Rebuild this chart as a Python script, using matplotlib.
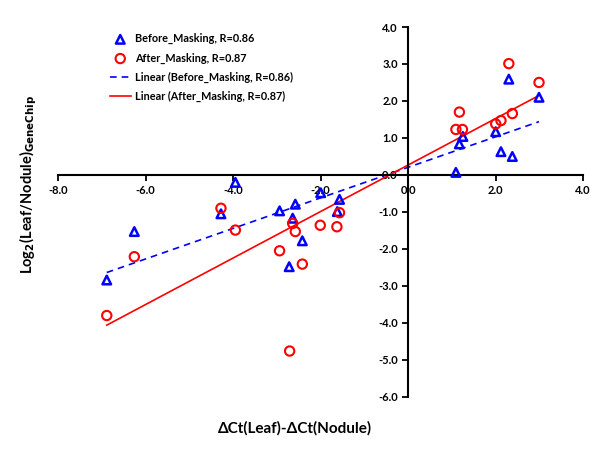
import numpy as np
import matplotlib
matplotlib.use("Agg")
import matplotlib.pyplot as plt

# --- Data ---
before_x = [-6.89, -6.26, -4.28, -3.95, -2.94, -2.58, -2.64, -2.42, -2.72, -2.00,
            -1.57, -1.62, 1.09, 1.17, 1.25, 2.00, 2.12, 2.38, 2.30, 2.99]
before_y = [-2.84, -1.53, -1.05, -0.20, -0.97, -0.79, -1.17, -1.78, -2.48, -0.48,
            -0.66, -0.99, 0.07, 0.84, 1.04, 1.17, 0.63, 0.50, 2.59, 2.10]

after_x = [-6.89, -6.26, -4.28, -3.95, -2.94, -2.64, -2.58, -2.42, -2.01, -1.63,
           -1.57, -2.71, 1.09, 1.17, 1.24, 2.00, 2.12, 2.38, 2.30, 2.99]
after_y = [-3.80, -2.21, -0.90, -1.49, -2.05, -1.31, -1.53, -2.41, -1.36, -1.40,
           -1.02, -4.76, 1.23, 1.70, 1.23, 1.38, 1.47, 1.66, 3.01, 2.50]

x_ticks = [-8.0, -6.0, -4.0, -2.0, 0.0, 2.0, 4.0]
y_ticks = [-6.0, -5.0, -4.0, -3.0, -2.0, -1.0, 0.0, 1.0, 2.0, 3.0, 4.0]

plt.rcParams.update({
    "font.family": ["Lato", "DejaVu Sans"],
    "font.weight": "bold",
    "font.size": 9,
})

fig = plt.figure(figsize=(6, 4.5), dpi=100)
ax = fig.add_axes([0.097, 0.118, 0.875, 0.822])

ax.scatter(before_x, before_y, marker="^", s=38, facecolors="none",
           edgecolors="#0000FF", linewidths=1.8, zorder=3,
           label="Before_Masking, R=0.86")
ax.scatter(after_x, after_y, marker="o", s=45, facecolors="none",
           edgecolors="#FF0000", linewidths=1.5, zorder=3,
           label="After_Masking, R=0.87")

# linear trend lines
for xs, ys, color, ls, lab in [
    (before_x, before_y, "#0000FF", (0, (4, 3)), "Linear (Before_Masking, R=0.86)"),
    (after_x, after_y, "#FF0000", "-", "Linear (After_Masking, R=0.87)"),
]:
    k, b = np.polyfit(xs, ys, 1)
    xx = np.array([min(xs), max(xs)])
    ax.plot(xx, k * xx + b, color=color, linestyle=ls, linewidth=1.2,
            label=lab, zorder=2)

ax.set_xlim(-8, 4)
ax.set_ylim(-6, 4)
ax.set_xticks(x_ticks)
ax.set_yticks(y_ticks)
ax.set_xticklabels([f"{t:.1f}" for t in x_ticks], fontweight="bold")
ax.set_yticklabels([f"{t:.1f}" for t in y_ticks], fontweight="bold")

ax.spines["left"].set_position(("data", 0))
ax.spines["bottom"].set_position(("data", 0))
ax.spines["right"].set_visible(False)
ax.spines["top"].set_visible(False)
for s in ("left", "bottom"):
    ax.spines[s].set_linewidth(1.5)
ax.tick_params(direction="out", length=4, width=1.3, labelsize=8)
ax.patch.set_visible(False)

ax.set_xlabel("ΔCt(Leaf)-ΔCt(Nodule)", fontsize=11, fontweight="bold")
ax.xaxis.set_label_coords(0.45, -0.065)
ax.set_ylabel("Log$_\\mathbf{2}$(Leaf/Nodule)$_\\mathbf{GeneChip}$",
              fontsize=10.5, fontweight="bold")
ax.yaxis.set_label_coords(-0.036, 0.573)

ax.legend(loc="upper left", bbox_to_anchor=(0.167, 0.948),
          bbox_transform=fig.transFigure, frameon=False, fontsize=7.8,
          handlelength=1.9, labelspacing=0.75, handletextpad=0.4)

fig.savefig("out.png", dpi=100)
